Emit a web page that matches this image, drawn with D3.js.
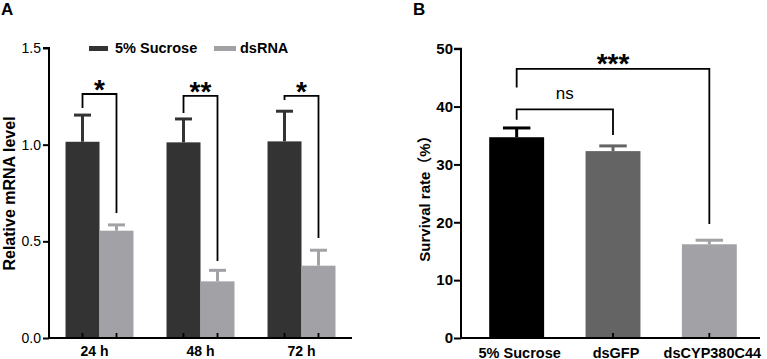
<!DOCTYPE html>
<html>
<head>
<meta charset="utf-8">
<script src="https://cdn.jsdelivr.net/npm/d3@7"></script>
<style>
  html, body { margin: 0; padding: 0; background: #fff; }
  svg { display: block; font-family: "Liberation Sans", Arial, "Noto Sans CJK SC", sans-serif; }
</style>
</head>
<body>
<svg id="chart" width="767" height="359"></svg>
<script>
// ---------- Panel A data ----------
const catsA = ["24 h", "48 h", "72 h"];
const seriesA = ["5% Sucrose", "dsRNA"];
const sucroseA = [1.015, 1.012, 1.017];
const sucroseErrA = [0.138, 0.121, 0.156];
const dsrnaA = [0.555, 0.293, 0.374];
const dsrnaErrA = [0.030, 0.057, 0.080];
const ticksA = [0, 0.5, 1.0, 1.5];
const sigA = ["*", "**", "*"];
const bracketTopA = [1.262, 1.252, 1.252];
const bracketLeftEndA = [1.19, 1.164, 1.231];
const bracketRightEndA = [0.647, 0.398, 0.517];

// ---------- Panel B data ----------
const catsB = ["5% Sucrose", "dsGFP", "dsCYP380C44"];
const survivalB = [34.7, 32.3, 16.2];
const survivalErrB = [1.6, 0.9, 0.7];
const ticksB = [0, 10, 20, 30, 40, 50];
const sigLabelsB = ["ns", "***"];
const sigFromB = [0, 0];
const sigToB = [1, 2];
const sigTopB = [39.5, 46.5];
const sigLeftEndB = [37.7, 43.3];
const sigRightEndB = [35.1, 19.7];

const colorsA = ["#333333", "#a2a2a6"];
const colorsB = ["#000000", "#646464", "#a2a2a6"];

const svg = d3.select("#chart");
svg.append("rect").attr("width", 767).attr("height", 359).attr("fill", "#fff");

function errorBar(g, cx, yTop, yBase, capW, color) {
  g.append("line").attr("x1", cx).attr("x2", cx).attr("y1", yBase).attr("y2", yTop)
    .attr("stroke", color).attr("stroke-width", 3);
  g.append("line").attr("x1", cx - capW / 2).attr("x2", cx + capW / 2).attr("y1", yTop).attr("y2", yTop)
    .attr("stroke", color).attr("stroke-width", 3);
}

function bracket(g, x1, x2, yTop, yL, yR) {
  g.append("path")
    .attr("d", `M${x1},${yL}V${yTop}H${x2}V${yR}`)
    .attr("fill", "none").attr("stroke", "#000").attr("stroke-width", 1.8);
}

// ================= Panel A =================
{
  const g = svg.append("g");
  const x0 = 49, x1 = 352;
  const y = d3.scaleLinear().domain([0, 1.5]).range([338, 48]);
  const x = d3.scaleBand().domain(catsA).range([x0, x1]).paddingInner(0.327).paddingOuter(0.1635);
  const xs = d3.scaleBand().domain(seriesA).range([0, x.bandwidth()]);
  const vals = [sucroseA, dsrnaA];
  const errs = [sucroseErrA, dsrnaErrA];

  catsA.forEach((c, i) => {
    seriesA.forEach((s, j) => {
      const bx = x(c) + xs(s);
      g.append("rect").attr("x", bx).attr("y", y(vals[j][i]))
        .attr("width", xs.bandwidth()).attr("height", y(0) - y(vals[j][i]))
        .attr("fill", colorsA[j]);
      errorBar(g, bx + xs.bandwidth() / 2, y(vals[j][i] + errs[j][i]), y(vals[j][i]), xs.bandwidth() / 2, colorsA[j]);
    });
  });

  // brackets
  catsA.forEach((c, i) => {
    const cx1 = x(c) + xs(seriesA[0]) + xs.bandwidth() / 2;
    const cx2 = x(c) + xs(seriesA[1]) + xs.bandwidth() / 2;
    bracket(g, cx1, cx2, y(bracketTopA[i]), y(bracketLeftEndA[i]), y(bracketRightEndA[i]));
    g.append("text").attr("x", (cx1 + cx2) / 2).attr("y", y(bracketTopA[i]) + 5)
      .attr("text-anchor", "middle").attr("font-size", 28).attr("font-weight", "bold")
      .text(sigA[i]);
  });

  // y axis
  const yAxis = d3.axisLeft(y).tickValues(ticksA).tickFormat(d3.format(".1f")).tickSize(6).tickPadding(2);
  const ya = g.append("g").attr("transform", `translate(${x0},0)`).call(yAxis);
  ya.select(".domain").attr("stroke-width", 2).attr("d", `M-6,${y(1.5)}H0V${y(0) + 1}`);
  ya.selectAll(".tick line").attr("stroke-width", 2);
  ya.selectAll(".tick text").attr("font-size", 14).attr("fill", "#000")
    .attr("font-family", "Liberation Sans, Arial, sans-serif");

  // x axis
  g.append("line").attr("x1", x0 - 1).attr("x2", x1).attr("y1", 338).attr("y2", 338)
    .attr("stroke", "#000").attr("stroke-width", 2.2);
  catsA.forEach((c, i) => {
    seriesA.forEach(s => {
      const cx = x(c) + xs(s) + xs.bandwidth() / 2;
      g.append("line").attr("x1", cx).attr("x2", cx).attr("y1", 338).attr("y2", 333)
        .attr("stroke", "#000").attr("stroke-width", 1.8);
    });
    g.append("text").attr("x", x(c) + x.bandwidth() / 2 - (i === 0 ? 5 : 0)).attr("y", 356)
      .attr("text-anchor", "middle").attr("font-size", 14).attr("font-weight", "bold").text(c);
  });

  // y title
  g.append("text").attr("transform", `translate(15,193.5) rotate(-90)`)
    .attr("text-anchor", "middle").attr("font-size", 16).attr("font-weight", "bold")
    .text("Relative mRNA level");

  // legend
  const legX = [89, 214];
  const legW = [19, 22];
  seriesA.forEach((s, j) => {
    g.append("rect").attr("x", legX[j]).attr("y", 46).attr("width", legW[j]).attr("height", 5)
      .attr("fill", colorsA[j]);
    g.append("text").attr("x", legX[j] + legW[j] + (j === 0 ? 7 : 4)).attr("y", 53)
      .attr("font-size", 14.5).attr("font-weight", "bold").text(s);
  });

  // panel label
  g.append("text").attr("x", 1).attr("y", 15).attr("font-size", 17).attr("font-weight", "bold").text("A");
}

// ================= Panel B =================
{
  const g = svg.append("g");
  const ax0 = 461, ax1 = 760;
  const y = d3.scaleLinear().domain([0, 50]).range([338, 48.7]);
  const x = d3.scaleBand().domain(catsB).range([468.5, 757.5]).paddingInner(0.43).paddingOuter(0.215);

  catsB.forEach((c, i) => {
    g.append("rect").attr("x", x(c)).attr("y", y(survivalB[i]))
      .attr("width", x.bandwidth()).attr("height", y(0) - y(survivalB[i]))
      .attr("fill", colorsB[i]);
    errorBar(g, x(c) + x.bandwidth() / 2, y(survivalB[i] + survivalErrB[i]), y(survivalB[i]), x.bandwidth() / 2, colorsB[i]);
  });

  // brackets
  sigLabelsB.forEach((lab, k) => {
    const cx1 = x(catsB[sigFromB[k]]) + x.bandwidth() / 2;
    const cx2 = x(catsB[sigToB[k]]) + x.bandwidth() / 2;
    bracket(g, cx1, cx2, y(sigTopB[k]), y(sigLeftEndB[k]), y(sigRightEndB[k]));
    const isStar = lab.indexOf("*") >= 0;
    g.append("text").attr("x", (cx1 + cx2) / 2).attr("y", y(sigTopB[k]) + (isStar ? 4 : -10))
      .attr("text-anchor", "middle").attr("font-size", isStar ? 28 : 17)
      .attr("font-weight", isStar ? "bold" : "normal").text(lab);
  });

  // y axis
  const yAxis = d3.axisLeft(y).tickValues(ticksB).tickFormat(d3.format("d")).tickSize(7).tickPadding(1);
  const ya = g.append("g").attr("transform", `translate(${ax0},0)`).call(yAxis);
  ya.select(".domain").attr("stroke-width", 2).attr("d", `M-7,${y(50)}H0V${y(0) + 1}`);
  ya.selectAll(".tick line").attr("stroke-width", 2);
  ya.selectAll(".tick text").attr("font-size", 15).attr("font-weight", "bold").attr("fill", "#000")
    .attr("font-family", "Liberation Sans, Arial, sans-serif");

  // x axis
  g.append("line").attr("x1", ax0 - 1).attr("x2", ax1).attr("y1", 338).attr("y2", 338)
    .attr("stroke", "#000").attr("stroke-width", 2.2);
  catsB.forEach(c => {
    const cx = x(c) + x.bandwidth() / 2;
    g.append("line").attr("x1", cx).attr("x2", cx).attr("y1", 338).attr("y2", 333)
      .attr("stroke", "#000").attr("stroke-width", 1.8);
    g.append("text").attr("x", cx + 3).attr("y", 357.5)
      .attr("text-anchor", "middle").attr("font-size", 14.5).attr("font-weight", "bold").text(c);
  });

  // y title
  g.append("text").attr("transform", `translate(430,195) rotate(-90)`)
    .attr("text-anchor", "middle").attr("font-size", 15).attr("font-weight", "bold")
    .text("Survival rate（%）");

  // panel label
  g.append("text").attr("x", 413).attr("y", 15).attr("font-size", 17).attr("font-weight", "bold").text("B");
}
</script>
</body>
</html>
